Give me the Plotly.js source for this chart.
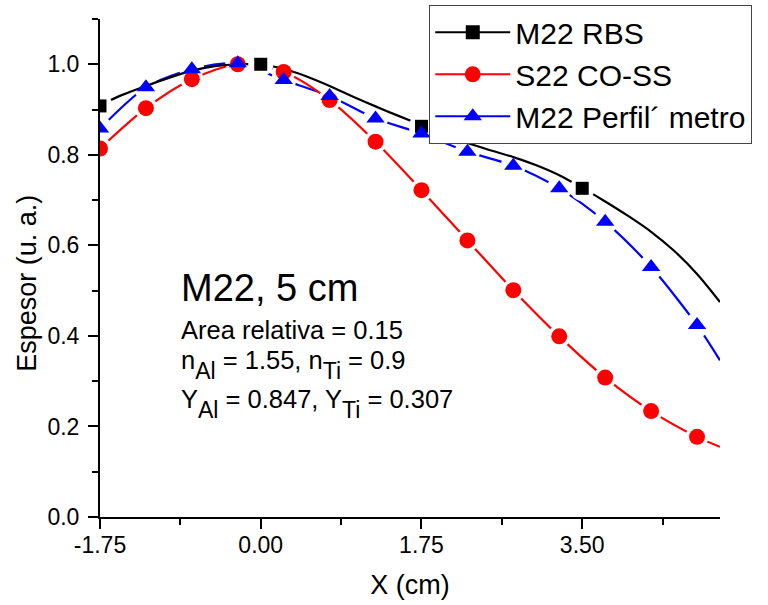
<!DOCTYPE html>
<html>
<head>
<meta charset="utf-8">
<script src="https://cdn.plot.ly/plotly-3.0.1.min.js"></script>
<style>html,body{margin:0;padding:0;background:#fff;}#chart{width:768px;height:605px;}</style>
</head>
<body>
<div id="chart"></div>
<script>
// RBS (black) measured points and fitted curve
const rbsX = [-1.75, 0.0, 1.75, 3.5];
const rbsY = [0.908, 1.000, 0.863, 0.726];
const rbsCurveX = [-1.75,-1.5,-1.25,-1.0,-0.75,-0.5,-0.25,0.0,0.25,0.5,0.75,1.0,1.25,1.5,1.75,2.0,2.25,2.5,2.75,3.0,3.25,3.5,3.75,4.0,4.25,4.5,4.75,5.0];
const rbsCurveY = [0.910,0.933,0.952,0.970,0.986,0.996,1.000,0.999,0.990,0.973,0.952,0.929,0.907,0.886,0.866,0.845,0.826,0.810,0.795,0.777,0.755,0.727,0.697,0.665,0.630,0.588,0.537,0.475];

// S22 CO-SS (red)
const cossX = [-1.75,-1.25,-0.75,-0.25,0.25,0.75,1.25,1.75,2.25,2.75,3.25,3.75,4.25,4.75];
const cossY = [0.814,0.903,0.967,1.000,0.983,0.921,0.829,0.722,0.611,0.501,0.399,0.308,0.234,0.177];
const cossLineX = [-1.75,-1.25,-0.75,-0.25,0.25,0.75,1.25,1.75,2.25,2.75,3.25,3.75,4.25,4.75,5.0];
const cossLineY = [0.814,0.903,0.967,1.000,0.983,0.921,0.829,0.722,0.611,0.501,0.399,0.308,0.234,0.177,0.155];

// M22 Perfilómetro (blue)
const perfX = [-1.75,-1.25,-0.75,-0.25,0.25,0.75,1.25,1.75,2.25,2.75,3.25,3.75,4.25,4.75];
const perfY = [0.858,0.949,0.989,1.002,0.965,0.930,0.880,0.847,0.807,0.776,0.726,0.652,0.552,0.424];
const perfLineX = [-1.75,-1.25,-0.75,-0.25,0.25,0.75,1.25,1.75,2.25,2.75,3.25,3.75,4.25,4.75,5.0];
const perfLineY = [0.858,0.949,0.989,1.002,0.965,0.930,0.880,0.847,0.807,0.776,0.726,0.652,0.552,0.424,0.346];

const seriesNames = ["M22 RBS", "S22 CO-SS", "M22 Perfil´ metro"];
const xTickVals = [-1.75, 0.0, 1.75, 3.5];
const xTickText = ["-1.75", "0.00", "1.75", "3.50"];

const F = "Arial, 'Liberation Sans', sans-serif";
const sub = (t) => '<span style="baseline-shift:-10px;font-size:23px">' + t + '</span>';

function lineTrace(x, y, color) {
  return {x: x, y: y, mode: "lines", line: {color: color, width: 2.2, shape: "spline", smoothing: 0.8}, showlegend: false, hoverinfo: "skip"};
}
function haloTrace(x, y, size) {
  return {x: x, y: y, mode: "markers", marker: {symbol: "circle", size: size, color: "#ffffff"}, showlegend: false, hoverinfo: "skip"};
}
function markerTrace(x, y, symbol, size, color) {
  return {x: x, y: y, mode: "markers", marker: {symbol: symbol, size: size, color: color}, showlegend: false};
}

const traces = [
  lineTrace(perfLineX, perfLineY, "#0000FF"),
  haloTrace(perfX, perfY, 25),
  lineTrace(cossLineX, cossLineY, "#FF0000"),
  haloTrace(cossX, cossY, 23),
  lineTrace(rbsCurveX, rbsCurveY, "#000000"),
  haloTrace(rbsX, rbsY, 25),
  markerTrace(cossX, cossY, "circle", 16, "#FF0000"),
  markerTrace(rbsX, rbsY, "square", 13, "#000000"),
  markerTrace(perfX, perfY, "triangle-up", 16, "#0000FF"),
  // legend entries
  {x: [null], y: [null], name: seriesNames[0], mode: "lines+markers", line: {color: "#000", width: 2}, marker: {symbol: "square", size: 14, color: "#000"}},
  {x: [null], y: [null], name: seriesNames[1], mode: "lines+markers", line: {color: "#FF0000", width: 2}, marker: {symbol: "circle", size: 16, color: "#FF0000"}},
  {x: [null], y: [null], name: seriesNames[2], mode: "lines+markers", line: {color: "#0000FF", width: 2}, marker: {symbol: "triangle-up", size: 16, color: "#0000FF"}}
];

const layout = {
  width: 768, height: 605,
  margin: {l: 100, r: 48, t: 19, b: 88, pad: 0, autoexpand: false},
  paper_bgcolor: "#fff", plot_bgcolor: "#fff",
  font: {family: F, color: "#000", size: 23},
  showlegend: true,
  legend: {
    x: 0.5306, y: 1.028, xanchor: "left", yanchor: "top",
    bgcolor: "#fff", bordercolor: "#444", borderwidth: 1.3,
    font: {family: F, size: 30, color: "#000"},
    itemwidth: 75, tracegroupgap: 0
  },
  xaxis: {
    range: [-1.75, 5.0], showgrid: false, zeroline: false,
    showline: true, linecolor: "#000", linewidth: 2,
    ticks: "outside", ticklen: 10, tickwidth: 2, tickcolor: "#000",
    tickvals: xTickVals, ticktext: xTickText,
    tickfont: {family: F, size: 23},
    ticklabelstandoff: -4,
    minor: {dtick: 0.875, tick0: -1.75, ticks: "outside", ticklen: 6, tickwidth: 2, tickcolor: "#000"},
    title: {text: "X (cm)", font: {family: F, size: 27}, standoff: 19}
  },
  yaxis: {
    range: [0, 1.1], showgrid: false, zeroline: false,
    showline: true, linecolor: "#000", linewidth: 2,
    ticks: "outside", ticklen: 10, tickwidth: 2, tickcolor: "#000",
    dtick: 0.2, tick0: 0, tickformat: ".1f",
    tickfont: {family: F, size: 23},
    ticklabelstandoff: 4,
    minor: {dtick: 0.1, tick0: 0, ticks: "outside", ticklen: 6, tickwidth: 2, tickcolor: "#000"}
  },
  annotations: [
    {xref: "paper", yref: "paper", x: -0.118, y: 0.47, xanchor: "center", yanchor: "middle", showarrow: false,
     textangle: -90, text: "Espesor (u. a.)", font: {family: F, size: 27}},
    {xref: "paper", yref: "paper", x: 0.128, y: 0.459, xanchor: "left", yanchor: "middle", showarrow: false,
     text: "M22, 5 cm", font: {family: F, size: 38}},
    {xref: "paper", yref: "paper", x: 0.128, y: 0.3765, xanchor: "left", yanchor: "middle", showarrow: false,
     text: "Area relativa = 0.15", font: {family: F, size: 25.5}},
    {xref: "paper", yref: "paper", x: 0.128, y: 0.306, xanchor: "left", yanchor: "middle", showarrow: false,
     text: "n" + sub("Al") + " = 1.55, n" + sub("Ti") + " = 0.9", font: {family: F, size: 25.5}},
    {xref: "paper", yref: "paper", x: 0.128, y: 0.226, xanchor: "left", yanchor: "middle", showarrow: false,
     text: "Y" + sub("Al") + " = 0.847, Y" + sub("Ti") + " = 0.307", font: {family: F, size: 25.5}}
  ]
};

Plotly.newPlot("chart", traces, layout, {displayModeBar: false, staticPlot: true});
</script>
</body>
</html>
